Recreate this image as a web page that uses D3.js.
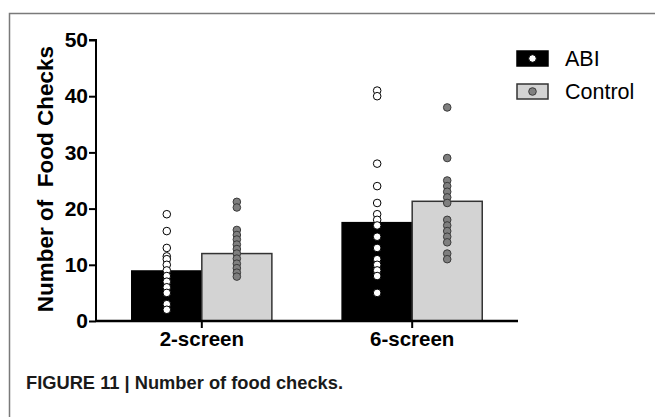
<!DOCTYPE html>
<html><head><meta charset="utf-8">
<script src="https://cdn.jsdelivr.net/npm/d3@7/dist/d3.min.js"></script>
<style>
html,body{margin:0;padding:0;background:#fff;}
svg{display:block;}
</style></head>
<body>
<svg id="chart" width="655" height="417"></svg>
<script>
const categories = ["2-screen", "6-screen"];
const groups = ["ABI", "Control"];
const abiMeans = [8.9, 17.5];
const controlMeans = [12.0, 21.3];
const abiPoints2 = [19, 16, 13, 11.5, 11, 10, 9, 8, 7, 6, 5, 3, 2];
const controlPoints2 = [21.2, 20.2, 16.2, 15.3, 14.5, 13.6, 12.8, 12, 11.1, 10.2, 9.4, 8.6, 7.9];
const abiPoints6 = [41, 40, 28, 24, 21, 19, 18, 17, 15, 13, 11, 10, 9, 8, 5];
const controlPoints6 = [38, 29, 25, 24, 23, 22, 21, 18, 17, 16, 15, 14, 12, 11];
const yTicks = [0, 10, 20, 30, 40, 50];

const svg = d3.select("#chart");
const W = 655, H = 417;

// frame
svg.append("path")
  .attr("d", `M9.5,${H} L9.5,13.5 L${W},13.5`)
  .attr("fill", "none").attr("stroke", "#7a7a7a").attr("stroke-width", 1.5);

const x0 = d3.scaleBand().domain(categories).range([96, 518]).paddingInner(0.334).paddingOuter(0.17);
const x1 = d3.scaleBand().domain(groups).range([0, x0.bandwidth()]);
const y = d3.scaleLinear().domain([0, 50]).range([321, 40]);

const fills = {ABI: "#000000", Control: "#d3d3d3"};
const dotFill = {ABI: "#ffffff", Control: "#7f7f7f"};
const dotStroke = {ABI: "#000000", Control: "#3a3a3a"};

const barData = [];
categories.forEach((c, i) => {
  barData.push({cat: c, grp: "ABI", v: abiMeans[i]});
  barData.push({cat: c, grp: "Control", v: controlMeans[i]});
});
const pts = [
  {cat: "2-screen", grp: "ABI", vals: abiPoints2},
  {cat: "2-screen", grp: "Control", vals: controlPoints2},
  {cat: "6-screen", grp: "ABI", vals: abiPoints6},
  {cat: "6-screen", grp: "Control", vals: controlPoints6}
];

svg.append("g").selectAll("rect").data(barData).join("rect")
  .attr("x", d => x0(d.cat) + x1(d.grp))
  .attr("y", d => y(d.v))
  .attr("width", x1.bandwidth())
  .attr("height", d => y(0) - y(d.v))
  .attr("fill", d => fills[d.grp])
  .attr("stroke", d => d.grp === "ABI" ? "#000" : "#333")
  .attr("stroke-width", 1.5);

const dots = [];
pts.forEach(p => p.vals.forEach(v => dots.push({cat: p.cat, grp: p.grp, v})));
svg.append("g").selectAll("circle").data(dots).join("circle")
  .attr("cx", d => x0(d.cat) + x1(d.grp) + x1.bandwidth() / 2)
  .attr("cy", d => y(d.v))
  .attr("r", 3.8)
  .attr("fill", d => dotFill[d.grp])
  .attr("stroke", d => dotStroke[d.grp])
  .attr("stroke-width", 1);

// y axis
const yAxis = svg.append("g").attr("transform", "translate(96,0)")
  .call(d3.axisLeft(y).tickValues(yTicks).tickSize(7).tickPadding(1).tickFormat(d3.format("d")));
yAxis.select(".domain").attr("stroke", "#000").attr("stroke-width", 2).attr("d", `M-7,${y(50)}H0V${y(0)}`);
yAxis.selectAll(".tick line").attr("stroke", "#000").attr("stroke-width", 2);
yAxis.selectAll(".tick text")
  .attr("font-family", "Liberation Sans, Arial, sans-serif").attr("font-weight", "bold")
  .attr("font-size", 21).attr("fill", "#000");

// x axis
const xAxis = svg.append("g").attr("transform", `translate(0,${y(0)})`)
  .call(d3.axisBottom(x0).tickSize(7).tickPadding(3));
xAxis.select(".domain").attr("stroke", "#000").attr("stroke-width", 2.5).attr("d", `M96,0H518`);
xAxis.selectAll(".tick line").attr("stroke", "#000").attr("stroke-width", 2);
xAxis.selectAll(".tick text")
  .attr("font-family", "Liberation Sans, Arial, sans-serif").attr("font-weight", "bold")
  .attr("font-size", 20.5).attr("fill", "#000");

// y title
svg.append("text")
  .attr("transform", "translate(53,179) rotate(-90)")
  .attr("text-anchor", "middle")
  .attr("font-family", "Liberation Sans, Arial, sans-serif").attr("font-weight", "bold")
  .attr("font-size", 22.5).attr("fill", "#000")
  .attr("xml:space", "preserve")
  .style("white-space", "pre")
  .text("Number of  Food Checks");

// legend
const leg = svg.append("g");
groups.forEach((g, i) => {
  const ly = 51 + i * 33;
  leg.append("rect").attr("x", 517).attr("y", ly).attr("width", 31).attr("height", 15)
    .attr("fill", fills[g]).attr("stroke", g === "ABI" ? "#000" : "#333").attr("stroke-width", 1.5);
  leg.append("circle").attr("cx", 532.5).attr("cy", ly + 7.5).attr("r", 3.8)
    .attr("fill", dotFill[g]).attr("stroke", dotStroke[g]).attr("stroke-width", 1);
  leg.append("text").attr("x", 565).attr("y", ly + 7.5).attr("dy", "0.36em")
    .attr("font-family", "Liberation Sans, Arial, sans-serif").attr("font-size", 21.5).attr("fill", "#000")
    .text(g);
});

// caption
svg.append("text")
  .attr("x", 26).attr("y", 389)
  .attr("font-family", "Liberation Sans Narrow, Arial Narrow, Liberation Sans, sans-serif")
  .attr("font-weight", "bold").attr("font-size", 18).attr("fill", "#1a1a1a")
  .attr("textLength", 317).attr("lengthAdjust", "spacingAndGlyphs")
  .text("FIGURE 11 | Number of food checks.");
</script>
</body></html>
